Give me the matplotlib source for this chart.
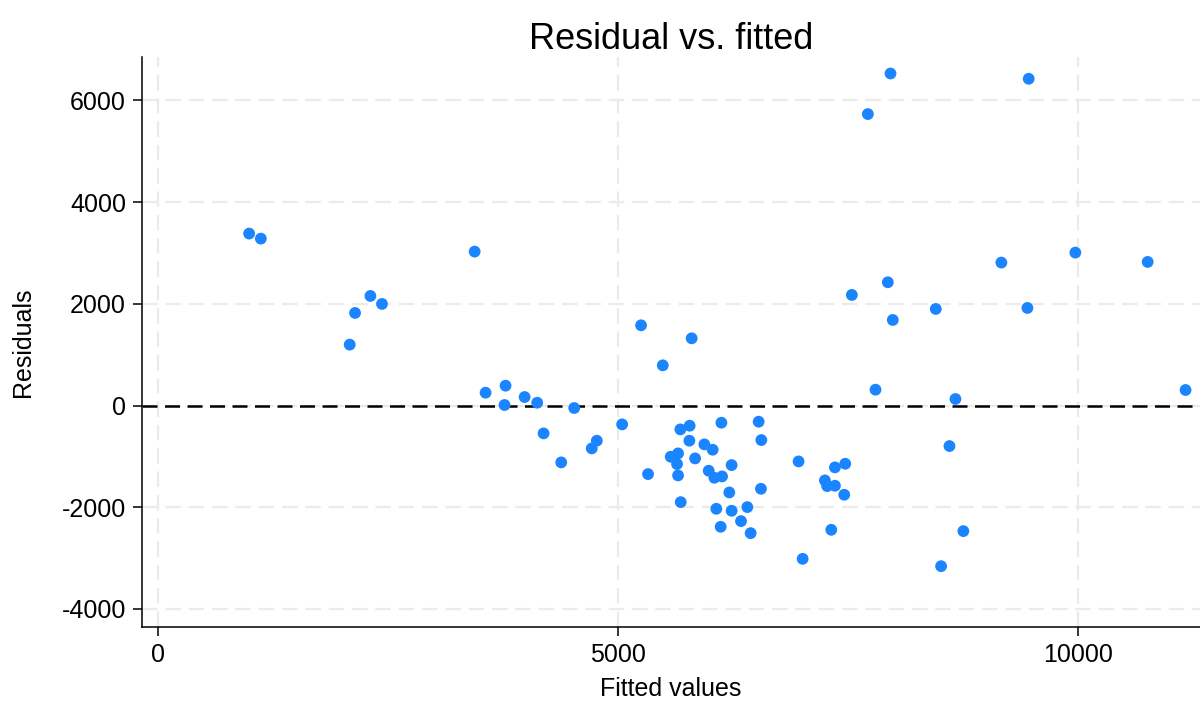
import matplotlib
matplotlib.use('Agg')
import matplotlib.pyplot as plt

plt.rcParams['font.family'] = ['Liberation Sans', 'DejaVu Sans']

# fitted values and residuals
fitted = [
    989, 1116, 3440, 2307, 2433, 2140, 2082, 3559, 3776, 3765,
    3983, 4120, 4522, 4189, 4381, 4713, 4768, 5249, 5799, 5485,
    7985, 7797, 5043, 5325, 5676, 5777, 5774, 5651, 5571, 5640,
    5651, 5680, 5836, 5937, 6027, 6122, 5984, 6046, 6129, 6233,
    6208, 6552, 6527, 6556, 6067, 6233, 6404, 6114, 6335, 6440,
    6961, 7005, 7247, 7272, 7356, 7356, 7468, 7457, 7316, 7960,
    9462, 7714, 9969, 10755, 9165, 7931, 7540, 8452, 9448, 8666,
    11167, 8601, 8752, 8510,
]
residuals = [
    3380, 3281, 3026, 2154, 1997, 1820, 1197, 252, 390, 10,
    167, 55, -49, -548, -1118, -843, -692, 1577, 1321, 790,
    1682, 311, -371, -1348, -469, -397, -692, -941, -1007, -1151,
    -1374, -1899, -1040, -764, -869, -338, -1282, -1420, -1394, -1171,
    -1709, -1637, -318, -679, -2030, -2069, -1997, -2384, -2272, -2509,
    -1099, -3014, -1472, -1584, -1577, -1216, -1145, -1754, -2443, 6527,
    6423, 5729, 3006, 2823, 2810, 2423, 2174, 1898, 1918, 128,
    305, -797, -2469, -3158,
]
x_ticks = [0, 5000, 10000]
y_ticks = [-4000, -2000, 0, 2000, 4000, 6000]

fig = plt.figure(figsize=(12, 7.03), dpi=100)
ax = fig.add_axes([0.1183, 0.1081, 0.8817, 0.8108])

grid_kw = dict(color='#ebebeb', lw=1.6, dashes=(7, 3.5), zorder=0)
for xv in x_ticks:
    ax.axvline(xv, **grid_kw)
for yv in y_ticks:
    ax.axhline(yv, **grid_kw)

ax.axhline(0, color='black', lw=1.8, dashes=(6, 3), zorder=1)
ax.scatter(fitted, residuals, s=72, color='#1a85ff', edgecolors='none', zorder=3)

ax.set_xlim(-176, 11324)
ax.set_ylim(-4354, 6851)
ax.set_xticks(x_ticks)
ax.set_yticks(y_ticks)
ax.set_xticklabels([str(v) for v in x_ticks])
ax.set_yticklabels([str(v) for v in y_ticks])

for side in ('top', 'right'):
    ax.spines[side].set_visible(False)
for side in ('left', 'bottom'):
    ax.spines[side].set_linewidth(1.1)
ax.tick_params(axis='both', direction='out', length=6.5, width=1.1,
               labelsize=18, pad=5)

ax.set_xlabel('Fitted values', fontsize=18, labelpad=7)
ax.set_ylabel('Residuals', fontsize=18, labelpad=19)
ax.set_title('Residual vs. fitted', fontsize=26, pad=6)

fig.savefig('out.png', dpi=100)
